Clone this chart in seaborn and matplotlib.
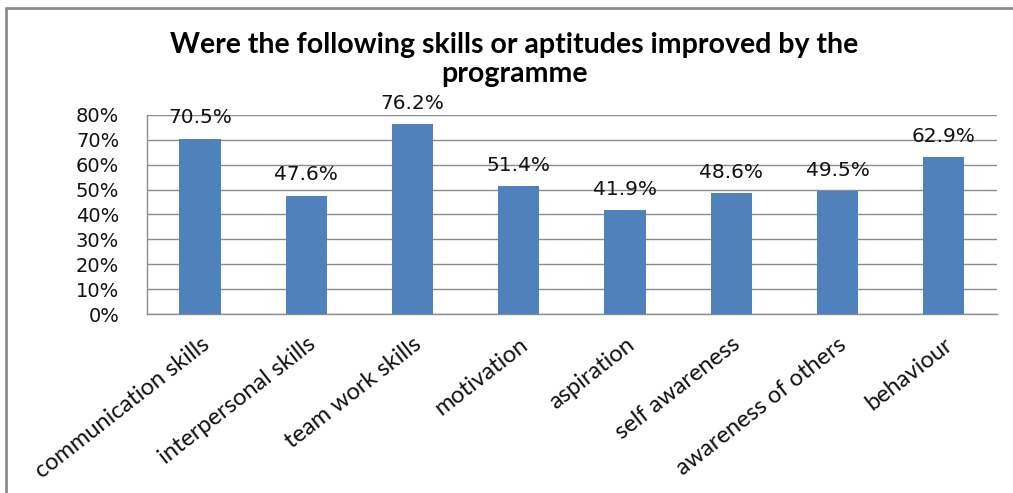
import matplotlib
matplotlib.use("Agg")
import matplotlib.pyplot as plt
import matplotlib.lines as mlines
from matplotlib.ticker import FuncFormatter
import pandas as pd
import seaborn as sns

skills = ["communication skills", "interpersonal skills", "team work skills",
          "motivation", "aspiration", "self awareness",
          "awareness of others", "behaviour"]
improved_pct = [70.5, 47.6, 76.2, 51.4, 41.9, 48.6, 49.5, 62.9]
y_ticks = [0, 10, 20, 30, 40, 50, 60, 70, 80]

sns.set_style("white")
plt.rcParams["font.family"] = ["DejaVu Sans"]
plt.rcParams["text.color"] = "#111111"
plt.rcParams["xtick.color"] = "#111111"
plt.rcParams["ytick.color"] = "#111111"

df = pd.DataFrame({"skill": skills, "pct": improved_pct})

fig = plt.figure(figsize=(10.13, 4.93), dpi=100)
ax = fig.add_axes([0.1451, 0.363, 0.8389, 0.404])

sns.barplot(data=df, x="skill", y="pct", color="#4F81BD", width=0.39,
            saturation=1, linewidth=0, ax=ax, zorder=3)

ax.set_ylim(0, 80)
ax.set_yticks(y_ticks)
ax.yaxis.set_major_formatter(FuncFormatter(lambda v, _: f"{v:.0f}%"))
ax.grid(axis="y", color="#8c8c8c", linewidth=1, zorder=0)
ax.set_axisbelow(True)
for side in ("top", "right"):
    ax.spines[side].set_visible(False)
for side in ("left", "bottom"):
    ax.spines[side].set_color("#8c8c8c")
    ax.spines[side].set_linewidth(1)
ax.tick_params(axis="both", length=0)
ax.tick_params(axis="y", labelsize=14, pad=20)
ax.set_xlabel("")
ax.set_ylabel("")

cat_font = ["Lato", "DejaVu Sans"]
ax.set_xticks(range(len(skills)))
ax.set_xticklabels(skills, rotation=38, ha="right", rotation_mode="anchor",
                   fontsize=17, family=cat_font)
ax.tick_params(axis="x", pad=14)

ax.bar_label(ax.containers[0], labels=[f"{v:.1f}%" for v in improved_pct],
             padding=8, fontsize=14.5, color="#111111")

fig.text(0.508, 0.908, "Were the following skills or aptitudes improved by the",
         ha="center", va="center", fontsize=20.5, fontweight="bold",
         family=cat_font, color="black")
fig.text(0.508, 0.850, "programme", ha="center", va="center", fontsize=20.5,
         fontweight="bold", family=cat_font, color="black")

# chart frame
fig.add_artist(mlines.Line2D([0.006, 1.0], [0.984, 0.984], transform=fig.transFigure,
                             color="#8c8c8c", linewidth=2))
fig.add_artist(mlines.Line2D([0.006, 0.006], [0.0, 0.984], transform=fig.transFigure,
                             color="#8c8c8c", linewidth=2))

fig.savefig("out.png", dpi=100)
